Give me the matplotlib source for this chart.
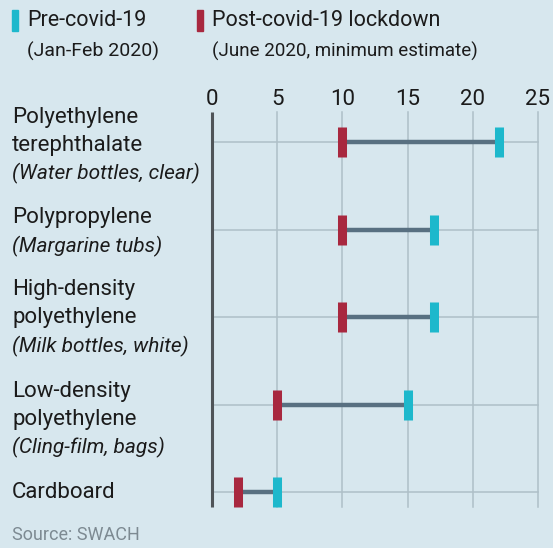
import matplotlib
matplotlib.use("Agg")
import matplotlib.pyplot as plt

materials = [
    ["Polyethylene", "terephthalate", "(Water bottles, clear)"],
    ["Polypropylene", "(Margarine tubs)"],
    ["High-density", "polyethylene", "(Milk bottles, white)"],
    ["Low-density", "polyethylene", "(Cling-film, bags)"],
    ["Cardboard"],
]
pre_covid = [22, 17, 17, 15, 5]
post_covid = [10, 10, 10, 5, 2]
xticks = [0, 5, 10, 15, 20, 25]

BG = "#d7e7ee"
CYAN = "#1db8cc"
RED = "#a8283f"
LINK = "#587081"
GRID = "#aebfc8"
TXT = "#1b1b1b"

plt.rcParams["font.family"] = ["Roboto", "DejaVu Sans"]

W, H = 553, 548
fig = plt.figure(figsize=(W / 100, H / 100), dpi=100, facecolor=BG)

# axes placed in pixel terms: x=0 -> 212px, x=25 -> 538px
ppu = (538 - 212) / 25
x0, x1 = -1, 26
left = 212 - (0 - x0) * ppu
width = (x1 - x0) * ppu
# rows at 142px, spacing 87.5px
rsp = 87.5
y_top, y_bot = 110, 525
ylo = (y_top - 142) / rsp
yhi = (y_bot - 142) / rsp
ax = fig.add_axes([left / W, 1 - y_bot / H, width / W, (y_bot - y_top) / H])
ax.set_facecolor(BG)
ax.set_xlim(x0, x1)
ax.set_ylim(yhi, ylo)
for s in ax.spines.values():
    s.set_visible(False)

n = len(materials)
rows = list(range(n))
ya, yb = (112 - 142) / rsp, (507 - 142) / rsp

for t in xticks[1:]:
    ax.plot([t, t], [ya, yb], color=GRID, lw=1.1, zorder=1)
for r in rows:
    ax.plot([0, 25], [r, r], color=GRID, lw=1.1, zorder=1)
ax.plot([0, 0], [ya, yb], color="#4f5458", lw=2.2, zorder=2, solid_capstyle="butt")

for r, a, b in zip(rows, post_covid, pre_covid):
    ax.plot([a, b], [r, r], color=LINK, lw=3.2, zorder=3, solid_capstyle="butt")
ax.plot(post_covid, rows, ls="none", marker="|", ms=22, mew=6.5, color=RED, zorder=4)
ax.plot(pre_covid, rows, ls="none", marker="|", ms=22, mew=6.5, color=CYAN, zorder=4)

ax.set_yticks([])
ax.xaxis.tick_top()
ax.set_xticks(xticks)
ax.set_xticklabels([str(t) for t in xticks], fontsize=16, color=TXT)
ax.tick_params(axis="x", length=0, pad=0)

# category labels (block shift in px relative to the row line)
shift = [3, 2.5, 1, 15, 1]
lh = 28 * 0.72
for r, lines, sh in zip(rows, materials, shift):
    k = len(lines)
    for j, line in enumerate(lines):
        off = ((k - 1) / 2 - j) * lh - sh * 0.72
        italic = line.startswith("(")
        ax.annotate(line, xy=(12 / W, r), xycoords=(fig.transFigure, ax.transData),
                    xytext=(0, off), textcoords="offset points", va="center", ha="left",
                    fontsize=15 if italic else 16, color=TXT,
                    style="italic" if italic else "normal")

# legend
def fx(px):
    return px / W

def fy(py):
    return 1 - py / H

fig.patches.append(plt.Rectangle((fx(12), fy(31)), 6 / W, 21 / H, transform=fig.transFigure,
                                 color=CYAN, figure=fig))
fig.patches.append(plt.Rectangle((fx(197), fy(31)), 6 / W, 21 / H, transform=fig.transFigure,
                                 color=RED, figure=fig))
fig.text(fx(27), fy(21), "Pre-covid-19", fontsize=15.5, color=TXT, va="center")
fig.text(fx(27), fy(51), "(Jan-Feb 2020)", fontsize=14, color=TXT, va="center")
fig.text(fx(212), fy(21), "Post-covid-19 lockdown", fontsize=15.5, color=TXT, va="center")
fig.text(fx(212), fy(51), "(June 2020, minimum estimate)", fontsize=13.5, color=TXT, va="center")

fig.text(fx(12), fy(535), "Source: SWACH", fontsize=13, color="#7d8a92", va="center")

fig.savefig("out.png", dpi=100, facecolor=BG)
